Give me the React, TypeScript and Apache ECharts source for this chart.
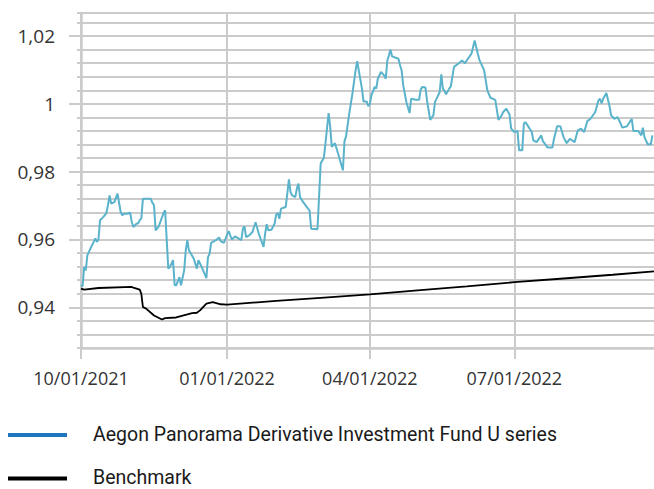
import React, { useEffect, useRef } from 'react';
import * as echarts from 'echarts';

const FUND_NAME = 'Aegon Panorama Derivative Investment Fund U series';
const BENCH_NAME = 'Benchmark';

const fundDates = [
  '2021-10-01','2021-10-02','2021-10-03','2021-10-04','2021-10-05','2021-10-07','2021-10-09','2021-10-10','2021-10-11','2021-10-12',
  '2021-10-13','2021-10-15','2021-10-17','2021-10-18','2021-10-19','2021-10-20','2021-10-22','2021-10-24','2021-10-26','2021-10-27',
  '2021-10-28','2021-10-30','2021-11-01','2021-11-02','2021-11-03','2021-11-05','2021-11-06','2021-11-07','2021-11-08','2021-11-09',
  '2021-11-14','2021-11-15','2021-11-16','2021-11-17','2021-11-19','2021-11-22','2021-11-23','2021-11-25','2021-11-26','2021-11-28',
  '2021-11-29','2021-11-30','2021-12-02','2021-12-03','2021-12-05','2021-12-06','2021-12-07','2021-12-08','2021-12-09','2021-12-11',
  '2021-12-13','2021-12-14','2021-12-16','2021-12-19','2021-12-20','2021-12-21','2021-12-22','2021-12-25','2021-12-27','2021-12-28',
  '2021-12-30','2022-01-02','2022-01-04','2022-01-06','2022-01-10','2022-01-11','2022-01-12','2022-01-13','2022-01-15','2022-01-17',
  '2022-01-18','2022-01-19','2022-01-21','2022-01-24','2022-01-25','2022-01-26','2022-01-27','2022-01-29','2022-01-31','2022-02-01',
  '2022-02-02','2022-02-03','2022-02-04','2022-02-07','2022-02-09','2022-02-10','2022-02-11','2022-02-13','2022-02-14','2022-02-15',
  '2022-02-16','2022-02-18','2022-02-21','2022-02-22','2022-02-23','2022-02-27','2022-03-01','2022-03-03','2022-03-04','2022-03-06',
  '2022-03-07','2022-03-08','2022-03-10','2022-03-12','2022-03-15','2022-03-16','2022-03-17','2022-03-19','2022-03-21','2022-03-22',
  '2022-03-23','2022-03-24','2022-03-25','2022-03-27','2022-03-28','2022-03-30','2022-03-31','2022-04-01','2022-04-02','2022-04-04',
  '2022-04-05','2022-04-06','2022-04-08','2022-04-10','2022-04-11','2022-04-12','2022-04-13','2022-04-14','2022-04-15','2022-04-19',
  '2022-04-20','2022-04-21','2022-04-22','2022-04-24','2022-04-26','2022-04-27','2022-04-30','2022-05-02','2022-05-03','2022-05-04',
  '2022-05-06','2022-05-07','2022-05-09','2022-05-11','2022-05-12','2022-05-15','2022-05-16','2022-05-17','2022-05-18','2022-05-19',
  '2022-05-21','2022-05-22','2022-05-24','2022-05-27','2022-05-29','2022-05-31','2022-06-01','2022-06-04','2022-06-06','2022-06-08',
  '2022-06-09','2022-06-12','2022-06-14','2022-06-16','2022-06-19','2022-06-21','2022-06-23','2022-06-24','2022-06-26','2022-06-28',
  '2022-06-29','2022-07-01','2022-07-03','2022-07-04','2022-07-06','2022-07-07','2022-07-08','2022-07-10','2022-07-12','2022-07-13',
  '2022-07-15','2022-07-18','2022-07-19','2022-07-22','2022-07-25','2022-07-26','2022-07-28','2022-07-30','2022-08-01','2022-08-03',
  '2022-08-05','2022-08-08','2022-08-10','2022-08-12','2022-08-14','2022-08-16','2022-08-18','2022-08-21','2022-08-23','2022-08-24',
  '2022-08-25','2022-08-26','2022-08-28','2022-08-30','2022-08-31','2022-09-02','2022-09-04','2022-09-06','2022-09-07','2022-09-10',
  '2022-09-13','2022-09-14','2022-09-17','2022-09-19','2022-09-20','2022-09-21','2022-09-23','2022-09-25','2022-09-26'
];

const fundValues = [
  0.9465,0.9462,0.9519,0.9509,0.9553,0.9574,0.9593,0.9603,0.9593,0.9600,
  0.9657,0.9666,0.9678,0.9701,0.9730,0.9706,0.9710,0.9735,0.9681,0.9671,
  0.9676,0.9676,0.9679,0.9651,0.9637,0.9647,0.9647,0.9657,0.9662,0.9720,
  0.9720,0.9708,0.9701,0.9627,0.9639,0.9678,0.9686,0.9514,0.9519,0.9539,
  0.9465,0.9465,0.9489,0.9465,0.9509,0.9568,0.9598,0.9568,0.9560,0.9544,
  0.9514,0.9539,0.9519,0.9486,0.9548,0.9558,0.9590,0.9598,0.9606,0.9595,
  0.9590,0.9625,0.9600,0.9609,0.9598,0.9632,0.9639,0.9607,0.9612,0.9622,
  0.9637,0.9651,0.9617,0.9578,0.9617,0.9645,0.9627,0.9629,0.9647,0.9674,
  0.9678,0.9661,0.9691,0.9696,0.9777,0.9740,0.9730,0.9725,0.9750,0.9765,
  0.9725,0.9710,0.9691,0.9686,0.9632,0.9630,0.9824,0.9841,0.9883,0.9973,
  0.9932,0.9873,0.9884,0.9853,0.9804,0.9890,0.9904,0.9971,1.0030,1.0064,
  1.0099,1.0126,1.0099,1.0045,1.0007,1.0007,0.9993,1.0000,1.0025,1.0050,
  1.0045,1.0074,1.0094,1.0084,1.0074,1.0128,1.0143,1.0160,1.0140,1.0133,
  1.0114,1.0099,1.0055,1.0005,0.9973,1.0015,1.0012,1.0012,1.0042,1.0050,
  1.0048,1.0010,0.9953,0.9966,1.0005,1.0035,1.0087,1.0045,1.0038,1.0028,
  1.0045,1.0052,1.0109,1.0120,1.0128,1.0120,1.0128,1.0148,1.0187,1.0148,
  1.0130,1.0099,1.0040,1.0018,1.0012,0.9953,0.9966,0.9976,0.9986,0.9968,
  0.9927,0.9917,0.9920,0.9863,0.9863,0.9942,0.9946,0.9932,0.9917,0.9892,
  0.9887,0.9907,0.9890,0.9871,0.9871,0.9897,0.9934,0.9934,0.9902,0.9884,
  0.9897,0.9887,0.9922,0.9927,0.9917,0.9949,0.9956,0.9976,1.0010,1.0015,
  1.0001,1.0015,1.0032,0.9993,0.9966,0.9956,0.9961,0.9942,0.9930,0.9934,
  0.9956,0.9920,0.9920,0.9907,0.9930,0.9902,0.9881,0.9881,0.9907
];

const benchDates = [
  '2021-10-01','2021-10-03','2021-10-12','2021-11-02','2021-11-03','2021-11-07','2021-11-08','2021-11-09','2021-11-11','2021-11-16',
  '2021-11-21','2021-11-23','2021-11-30','2021-12-07','2021-12-10','2021-12-13','2021-12-15','2021-12-19','2021-12-23','2021-12-28',
  '2022-01-01','2022-02-01','2022-03-01','2022-04-01','2022-05-01','2022-06-01','2022-07-01','2022-08-01','2022-09-01','2022-09-27'
];

const benchValues = [
  0.9455,0.9452,0.9457,0.9460,0.9458,0.9452,0.9440,0.9401,0.9396,0.9376,
  0.9364,0.9368,0.9370,0.9379,0.9383,0.9384,0.9391,0.9411,0.9415,0.9409,
  0.9408,0.9419,0.9428,0.9438,0.9450,0.9462,0.9474,0.9485,0.9496,0.9506
];

const yTickValues = [0.94, 0.96, 0.98, 1, 1.02];
const xTickDates = ['2021-10-01', '2022-01-01', '2022-04-01', '2022-07-01'];
const X_MIN = '2021-10-01';
const X_MAX = '2022-09-27';
const Y_MIN = 0.928;
const Y_MAX = 1.0268;
const Y_STEP = 0.004;

const FUND_COLOR = '#5ab3cb';
const FUND_LEGEND_COLOR = '#1f76bf';
const BENCH_COLOR = '#000000';

const toTime = (s: string) => {
  const [y, m, d] = s.split('-').map(Number);
  return new Date(y, m - 1, d).getTime();
};

const pad = (n: number) => (n < 10 ? '0' + n : '' + n);

export default function App() {
  const ref = useRef<HTMLDivElement>(null);

  useEffect(() => {
    if (!ref.current) return;
    const chart = echarts.init(ref.current, null, { renderer: 'svg' });
    const gridColor = '#cbcbcb';
    const xTicks = xTickDates.map(toTime);

    const legendItems = [
      { name: FUND_NAME, color: FUND_LEGEND_COLOR, y: 434 },
      { name: BENCH_NAME, color: BENCH_COLOR, y: 477.5 },
    ];

    const legendGraphics: any[] = [];
    legendItems.forEach((it) => {
      legendGraphics.push({
        type: 'rect',
        shape: { x: 8, y: it.y - 1, width: 59, height: 4 },
        style: { fill: it.color },
        silent: true,
      });
      legendGraphics.push({
        type: 'text',
        x: 93,
        y: it.y,
        style: {
          text: it.name,
          fontFamily: 'Roboto, sans-serif',
          fontSize: 19.5,
          fill: '#1a1a1a',
          verticalAlign: 'middle',
          align: 'left',
        },
        silent: true,
      });
    });

    chart.setOption({
      animation: false,
      grid: { left: 81, top: 13, right: 0, bottom: 141, containLabel: false },
      graphic: legendGraphics,
      xAxis: {
        type: 'value',
        min: toTime(X_MIN),
        max: toTime(X_MAX),
        axisLine: { show: true, lineStyle: { color: gridColor, width: 2.5 } },
        axisTick: {
          show: true,
          customValues: xTicks,
          length: 11,
          lineStyle: { color: gridColor, width: 2 },
        },
        splitLine: { show: true, lineStyle: { color: gridColor, width: 2 } },
        axisLabel: {
          customValues: xTicks,
          margin: 21,
          fontFamily: "'Open Sans', sans-serif",
          fontSize: 18,
          color: '#333',
          hideOverlap: false,
          formatter: (v: number) => {
            const d = new Date(v);
            return pad(d.getMonth() + 1) + '/' + pad(d.getDate()) + '/' + d.getFullYear();
          },
        },
      },
      yAxis: [
        {
          type: 'value',
          min: Y_MIN,
          max: Y_MAX,
          interval: Y_STEP,
          axisLine: { show: true, lineStyle: { color: gridColor, width: 2.5 } },
          axisTick: { show: true, length: 4, lineStyle: { color: gridColor, width: 2 } },
          splitLine: { show: true, lineStyle: { color: gridColor, width: 2 } },
          axisLabel: {
            customValues: yTickValues,
            margin: 26,
            fontFamily: "'Open Sans', sans-serif",
            fontSize: 19,
            color: '#333',
            formatter: (v: number) => String(Number(v.toFixed(2))).replace('.', ','),
          },
        },
        {
          type: 'value',
          position: 'left',
          min: Y_MIN,
          max: Y_MAX,
          interval: Y_STEP,
          axisLine: { show: false },
          axisTick: {
            show: true,
            customValues: yTickValues,
            length: 12,
            lineStyle: { color: gridColor, width: 2 },
          },
          splitLine: { show: false },
          axisLabel: { show: false },
        },
      ],
      series: [
        {
          name: FUND_NAME,
          type: 'line',
          yAxisIndex: 0,
          showSymbol: false,
          symbol: 'none',
          color: FUND_COLOR,
          lineStyle: { color: FUND_COLOR, width: 2 },
          data: fundDates.map((d, i) => [toTime(d), fundValues[i]]),
        },
        {
          name: BENCH_NAME,
          type: 'line',
          yAxisIndex: 0,
          showSymbol: false,
          symbol: 'none',
          color: BENCH_COLOR,
          lineStyle: { color: BENCH_COLOR, width: 1.8 },
          data: benchDates.map((d, i) => [toTime(d), benchValues[i]]),
        },
      ],
    });

    return () => chart.dispose();
  }, []);

  return (
    <div
      ref={ref}
      style={{ position: 'fixed', left: 0, top: 0, width: 654, height: 489, background: '#fff' }}
    />
  );
}
